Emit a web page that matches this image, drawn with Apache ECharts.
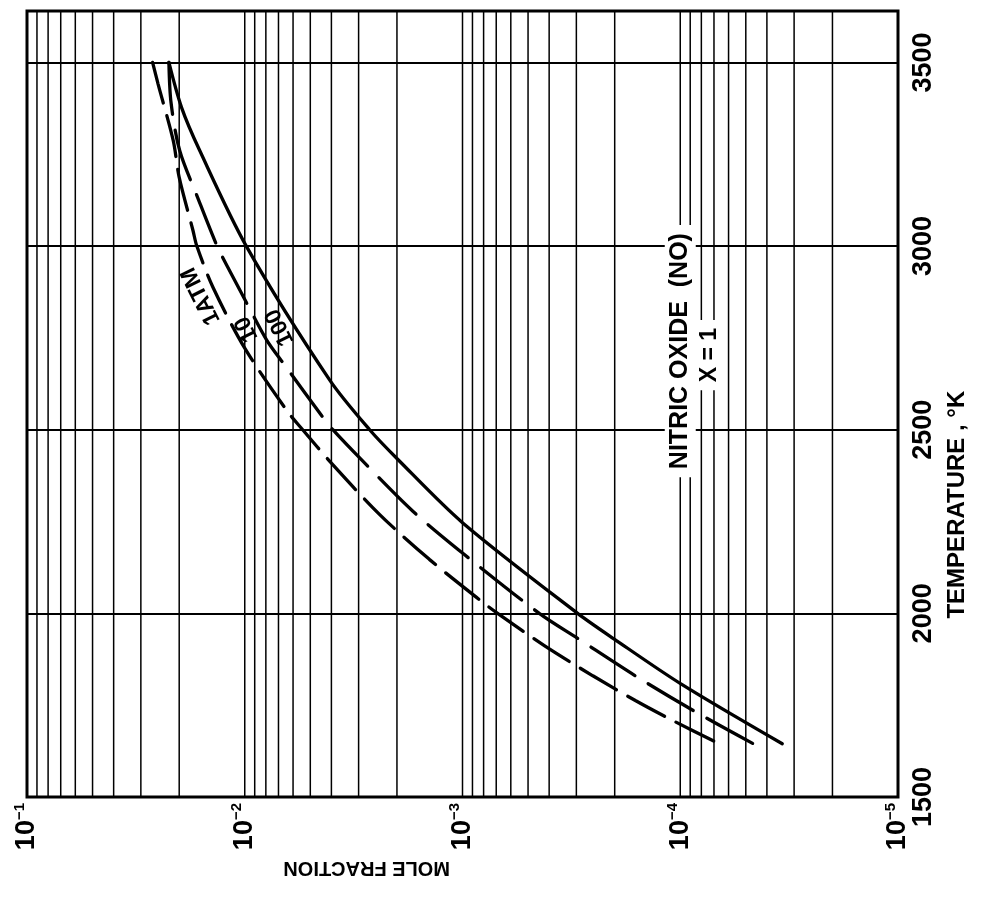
<!DOCTYPE html>
<html>
<head>
<meta charset="utf-8">
<script src="https://cdn.jsdelivr.net/npm/echarts@6/dist/echarts.min.js"></script>
<style>
  html, body { margin: 0; padding: 0; background: #fff; }
  #chart { width: 985px; height: 902px; }
</style>
</head>
<body>
<div id="chart"></div>
<script>
// Equilibrium nitric oxide (NO) mole fraction against temperature, x = 1,
// for three pressures. Temperature runs up the right-hand axis, mole fraction
// runs (log scale, decreasing) across the bottom.

const temperatureTicks = [1500, 2000, 2500, 3000, 3500];
const temperatureRange = [1500, 3640];
const moleFractionDecades = [1e-1, 1e-2, 1e-3, 1e-4, 1e-5];
const gridMantissas = [2, 3, 4, 5, 6, 7, 8, 9];

// 1 atm (long dashes)
const temp1atm = [3500, 3441, 3287, 3187, 3043, 3000, 2888, 2722, 2549, 2500, 2409, 2269, 2147, 2030, 2000, 1912, 1830, 1762, 1708, 1645];
const frac1atm = [0.0265, 0.0250, 0.0213, 0.0200, 0.0173, 0.0166, 0.0140, 0.0100, 0.00635, 0.00542, 0.00400, 0.00240, 0.00142, 0.000807, 0.000690, 0.000421, 0.000252, 0.000160, 0.000108, 0.0000662];

// 10 atm (dashes)
const temp10atm = [3500, 3390, 3260, 3130, 3000, 2948, 2845, 2744, 2676, 2535, 2500, 2419, 2278, 2160, 2000, 1932, 1823, 1726, 1645];
const frac10atm = [0.0223, 0.0218, 0.0199, 0.0164, 0.0134, 0.0121, 0.00980, 0.00793, 0.00656, 0.00439, 0.00394, 0.00292, 0.00169, 0.000980, 0.000444, 0.000296, 0.000154, 0.0000818, 0.0000462];

// 100 atm (solid)
const temp100atm = [3500, 3377, 3260, 3000, 2635, 2500, 2419, 2247, 2000, 1930, 1808, 1645];
const frac100atm = [0.0223, 0.0195, 0.0161, 0.00984, 0.00407, 0.00267, 0.00198, 0.00100, 0.000296, 0.000201, 0.0000993, 0.0000340];

// Curve captions and the panel title, anchored in data space [mole fraction, temperature]
const curveCaptions = ['1ATM', '10', '100'];
const curveCaptionAnchors = [[0.0159, 2864], [0.0098, 2774], [0.0069, 2779]];
const titleLines = ['NITRIC OXIDE  (NO)', 'X = 1'];
const titleAnchors = [[1.0e-4, 2714], [7.3e-5, 2703]];

const FONT = 'Liberation Sans, Arial, sans-serif';

function pairs(xs, ys) { return ys.map((t, i) => [xs[i], t]); }

// log-cycle ruling: every decade plus its 2..9 subdivisions
const gridValues = [];
moleFractionDecades.slice(0, 4).forEach(d => {
  gridValues.push(d);
  gridMantissas.forEach(m => gridValues.push(d * m / 10));
});

const chart = echarts.init(document.getElementById('chart'), null, { renderer: 'canvas' });

const curveStyle = { color: '#000', width: 3.3, cap: 'round' };

chart.setOption({
  animation: false,
  backgroundColor: '#fff',
  grid: {
    left: 27, right: 87, top: 11, bottom: 105,
    show: true, borderColor: '#000', borderWidth: 3, backgroundColor: 'transparent'
  },
  xAxis: {
    type: 'log', logBase: 10, min: 1e-5, max: 1e-1, inverse: true,
    axisLine: { show: false }, axisTick: { show: false },
    splitLine: { show: false },
    axisLabel: {
      rotate: 90, margin: 6,
      formatter: v => '{b|10}{s|−' + Math.round(-Math.log10(v)) + '}',
      rich: {
        b: { fontFamily: FONT, fontWeight: 'bold', fontSize: 27, color: '#000', lineHeight: 30 },
        s: { fontFamily: FONT, fontWeight: 'bold', fontSize: 15, color: '#000', verticalAlign: 'top', lineHeight: 30 }
      }
    }
  },
  yAxis: {
    type: 'value', position: 'right', min: temperatureRange[0], max: temperatureRange[1], interval: 500,
    axisLine: { show: false }, axisTick: { show: false },
    splitLine: { show: true, lineStyle: { color: '#000', width: 2 } },
    axisLabel: {
      rotate: 90, margin: 12, showMaxLabel: false,
      formatter: v => String(v),
      fontFamily: FONT, fontWeight: 'bold', fontSize: 27, color: '#000'
    }
  },
  series: [
    {
      name: 'ruling', type: 'custom', silent: true, z: 1,
      data: gridValues.map(v => [v, temperatureRange[0]]),
      encode: { x: 0, y: 1 },
      renderItem: (params, api) => {
        const a = api.coord([api.value(0), temperatureRange[0]]);
        const b = api.coord([api.value(0), temperatureRange[1]]);
        return {
          type: 'line',
          shape: { x1: a[0], y1: a[1], x2: b[0], y2: b[1] },
          style: { stroke: '#000', lineWidth: 1.5 }
        };
      }
    },
    {
      name: '1 ATM', type: 'line', data: pairs(frac1atm, temp1atm),
      smooth: 0.3, showSymbol: false, z: 3,
      lineStyle: Object.assign({ type: [42, 13] }, curveStyle)
    },
    {
      name: '10 ATM', type: 'line', data: pairs(frac10atm, temp10atm),
      smooth: 0.3, showSymbol: false, z: 3,
      lineStyle: Object.assign({ type: [52, 16] }, curveStyle)
    },
    {
      name: '100 ATM', type: 'line', data: pairs(frac100atm, temp100atm),
      smooth: 0.3, showSymbol: false, z: 3,
      lineStyle: Object.assign({ type: 'solid' }, curveStyle)
    }
  ]
});

// Captions and axis titles placed through the chart's own coordinate system
function px(p) { return chart.convertToPixel({ xAxisIndex: 0, yAxisIndex: 0 }, p); }

const graphics = [];
curveCaptions.forEach((txt, i) => {
  const p = px(curveCaptionAnchors[i]);
  graphics.push({
    type: 'text', x: p[0], y: p[1], rotation: 116.6 * Math.PI / 180, z: 10,
    style: { text: txt, font: 'bold 23px ' + FONT, fill: '#000', align: 'center', verticalAlign: 'middle' }
  });
});
titleLines.forEach((txt, i) => {
  const p = px(titleAnchors[i]);
  graphics.push({
    type: 'text', x: p[0], y: p[1], rotation: Math.PI / 2, z: 10,
    style: {
      text: txt, font: 'bold ' + (i === 0 ? 25 : 23) + 'px ' + FONT, fill: '#000',
      align: 'center', verticalAlign: 'middle',
      backgroundColor: '#fff', padding: [4, 8, 2, 8]
    }
  });
});
const xName = px([Math.pow(10, -2.56), 1500]);
graphics.push({
  type: 'text', x: xName[0], y: 868, rotation: Math.PI, z: 10,
  style: { text: 'MOLE FRACTION', font: 'bold 20px ' + FONT, fill: '#000', align: 'center', verticalAlign: 'middle' }
});
const yName = px([1e-5, 2296]);
graphics.push({
  type: 'text', x: 957, y: yName[1], rotation: Math.PI / 2, z: 10,
  style: { text: 'TEMPERATURE , °K', font: 'bold 24px ' + FONT, fill: '#000', align: 'center', verticalAlign: 'middle' }
});
chart.setOption({ graphic: graphics });
</script>
</body>
</html>
